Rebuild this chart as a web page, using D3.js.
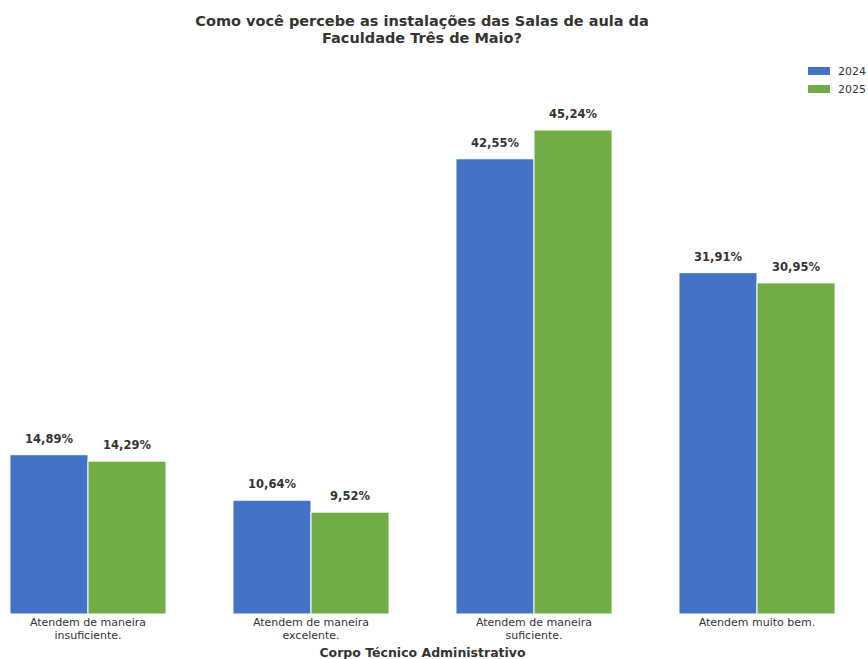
<!DOCTYPE html>
<html><head><meta charset="utf-8">
<script src="https://cdn.jsdelivr.net/npm/d3@7"></script>
<style>body{margin:0;background:#fff;}svg{display:block;font-family:"DejaVu Sans",sans-serif;}</style>
</head><body>
<svg id="c" width="868" height="659"></svg>
<script>
const categories = ["Atendem de maneira\ninsuficiente.", "Atendem de maneira\nexcelente.", "Atendem de maneira\nsuficiente.", "Atendem muito bem."];
const series = ["2024", "2025"];
const values2024 = [14.89, 10.64, 42.55, 31.91];
const values2025 = [14.29, 9.52, 45.24, 30.95];
const colors = ["#4472C4", "#70AD47"];
const titleLines = ["Como você percebe as instalações das Salas de aula da", "Faculdade Três de Maio?"];
const xLabel = "Corpo Técnico Administrativo";

const svg = d3.select("#c");
const baseY = 614;
const x = d3.scaleLinear().domain([0, 3]).range([88, 757]);
const bw = 0.35;
const y = d3.scaleLinear().domain([0, 45.24]).range([baseY, 130]);
const fmt = v => v.toFixed(2).replace(".", ",") + "%";
const data = [values2024, values2025];

data.forEach((vals, si) => {
  const off = si === 0 ? -bw : 0;
  const g = svg.append("g");
  g.selectAll("rect").data(vals).join("rect")
    .attr("x", (d, i) => x(i + off))
    .attr("y", d => y(d))
    .attr("width", x(bw) - x(0))
    .attr("height", d => baseY - y(d))
    .attr("fill", colors[si])
    .attr("stroke", "#fff").attr("stroke-width", 1);
  g.selectAll("text").data(vals).join("text")
    .attr("x", (d, i) => x(i + off + bw / 2))
    .attr("y", d => y(d) - 12)
    .attr("text-anchor", "middle")
    .attr("font-size", 11.5).attr("font-weight", "bold").attr("fill", "#333")
    .text(fmt);
});

// x category labels
const xl = svg.append("g");
categories.forEach((c, i) => {
  const t = xl.append("text").attr("text-anchor", "middle").attr("font-size", 11).attr("fill", "#333");
  c.split("\n").forEach((line, j) => {
    t.append("tspan").attr("x", x(i)).attr("y", 626 + j * 12.5).text(line);
  });
});
svg.append("text").attr("x", x(1.5)).attr("y", 657).attr("text-anchor", "middle")
  .attr("font-size", 12.5).attr("font-weight", "bold").attr("fill", "#333").text(xLabel);

// title
titleLines.forEach((l, j) => {
  svg.append("text").attr("x", 422).attr("y", 26 + j * 17).attr("text-anchor", "middle")
    .attr("font-size", 14.5).attr("font-weight", "bold").attr("fill", "#333").text(l);
});

// legend
series.forEach((s, i) => {
  svg.append("rect").attr("x", 808).attr("y", 67 + i * 18).attr("width", 22).attr("height", 8).attr("fill", colors[i]);
  svg.append("text").attr("x", 838).attr("y", 75 + i * 18).attr("font-size", 11).attr("fill", "#333").text(s);
});
</script>
</body></html>
